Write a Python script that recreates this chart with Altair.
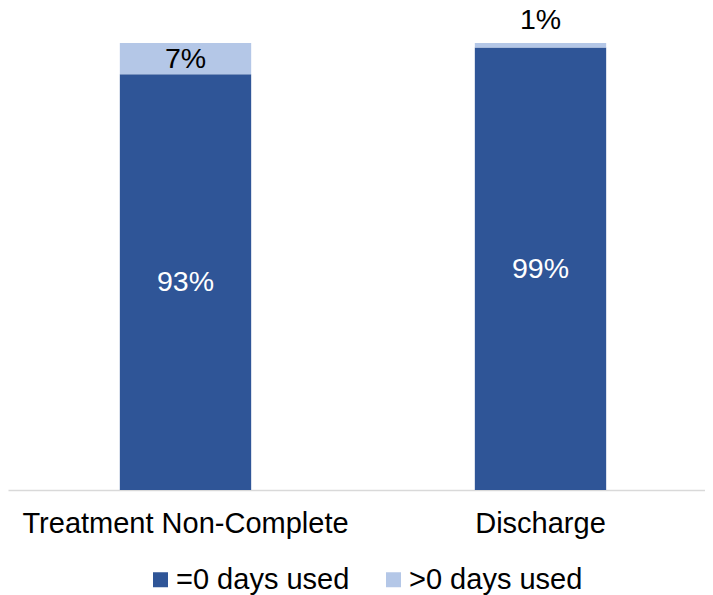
import altair as alt
import pandas as pd

categories = ["Treatment Non-Complete", "Discharge"]
series = ["=0 days used", ">0 days used"]
zero_days = [0.93, 0.99]
more_days = [0.07, 0.01]
colors = ["#2F5597", "#B4C7E7"]

rows = []
for i, c in enumerate(categories):
    rows.append({"category": c, "series": series[0], "order": 0, "value": zero_days[i]})
    rows.append({"category": c, "series": series[1], "order": 1, "value": more_days[i]})
df = pd.DataFrame(rows)

FONT = "Liberation Sans"
FS = 29
FS_NUM = 28.5

base = alt.Chart(df).transform_stack(
    stack="value", groupby=["category"], as_=["y0", "y1"],
    sort=[alt.SortField("order", order="ascending")]
).transform_calculate(
    mid="(datum.y0 + datum.y1) / 2",
    label="round(datum.value * 100) + '%'"
)

x_scale = alt.Scale(paddingInner=0, paddingOuter=0, range=[0, 710])
x_enc = alt.X("category:N", sort=categories, title=None, scale=x_scale,
              axis=alt.Axis(labelAngle=0, labelFontSize=FS, labelFont=FONT,
                            labelColor="#000000", ticks=False, labelPadding=19,
                            labelLimit=0,
                            domainColor="#D9D9D9", domainWidth=1.5))
y_scale = alt.Scale(domain=[0, 1])

bars = base.mark_bar(width=alt.RelativeBandSize(0.37)).encode(
    x=x_enc,
    y=alt.Y("y0:Q", scale=y_scale, axis=None),
    y2="y1:Q",
    color=alt.Color("series:N", sort=series,
                    scale=alt.Scale(domain=series, range=colors),
                    legend=alt.Legend(orient="none", legendX=138, legendY=522,
                                      direction="horizontal", title=None,
                                      symbolType="square", symbolSize=225,
                                      symbolStrokeWidth=0,
                                      labelFontSize=FS, labelFont=FONT,
                                      labelColor="#000000", columnPadding=29,
                                      labelOffset=1, labelLimit=0)),
)

xt = alt.X("category:N", sort=categories, scale=x_scale)

text_dark = base.transform_filter("datum.order == 0").mark_text(
    fontSize=FS_NUM, font=FONT, color="white", baseline="middle"
).encode(x=xt, y=alt.Y("mid:Q", scale=y_scale), text="label:N")

text_light_in = base.transform_filter("datum.order == 1 && datum.value >= 0.03").mark_text(
    fontSize=FS_NUM, font=FONT, color="black", baseline="middle"
).encode(x=xt, y=alt.Y("mid:Q", scale=y_scale), text="label:N")

text_light_out = base.transform_filter("datum.order == 1 && datum.value < 0.03").mark_text(
    fontSize=FS_NUM, font=FONT, color="black", baseline="middle", dy=-23
).encode(x=xt, y=alt.Y("y1:Q", scale=y_scale), text="label:N")

chart = alt.layer(bars, text_dark, text_light_in, text_light_out).properties(
    width=697, height=447,
    padding={"left": 0, "top": 35, "right": 0, "bottom": 105},
    autosize=alt.AutoSizeParams(type="none"),
    background="white",
).configure_view(stroke=None)

chart.save("out.html", embed_options={"renderer": "svg", "actions": False})
